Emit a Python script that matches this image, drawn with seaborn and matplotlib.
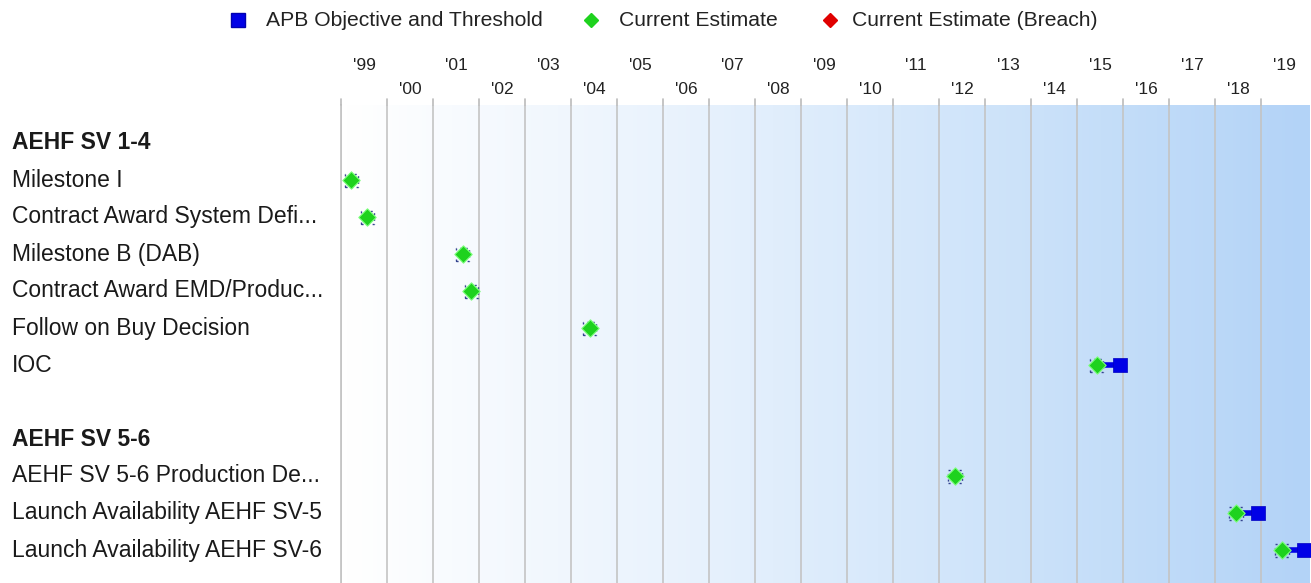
import numpy as np
import pandas as pd
import matplotlib
matplotlib.use("Agg")
import matplotlib.pyplot as plt
from matplotlib.colors import LinearSegmentedColormap
from matplotlib.lines import Line2D
import seaborn as sns

sns.set_theme(style="white")
plt.rcParams['font.family'] = ['Liberation Sans', 'DejaVu Sans']

# ---- data ----
row_labels = ["AEHF SV 1-4", "Milestone I", "Contract Award System Defi...",
              "Milestone B (DAB)", "Contract Award EMD/Produc...",
              "Follow on Buy Decision", "IOC", "",
              "AEHF SV 5-6", "AEHF SV 5-6 Production De...",
              "Launch Availability AEHF SV-5", "Launch Availability AEHF SV-6"]
header_rows = [0, 8]
est_rows = [1, 2, 3, 4, 5, 6, 9, 10, 11]
est_dates = [1999.22, 1999.57, 2001.65, 2001.83, 2004.41, 2015.43,
             2012.35, 2018.46, 2019.46]
apb_rows = [6, 10, 11]
apb_objective = [2015.55, 2018.58, 2019.58]
apb_threshold = [2015.93, 2018.93, 2019.93]
years = list(range(1999, 2020))
year_labels = ["'%02d" % (y % 100) for y in years]

x_min, x_max = 1999.0, 2020.07

fig = plt.figure(figsize=(13.11, 5.83), dpi=100)
W, H = 1311, 583
ax_top_px = 105
ax = fig.add_axes([341 / W, 0, (1310 - 341) / W, (H - ax_top_px) / H])

y_top = -1.03
y_bot = y_top + (H - ax_top_px) / 37.0

# gradient background
cmap = LinearSegmentedColormap.from_list("bg", ["#ffffff", "#eaf3fd", "#cfe4fa", "#b3d3f7"])
grad = np.linspace(0, 1, 256).reshape(1, -1)
ax.imshow(grad, cmap=cmap, aspect="auto", extent=[x_min, x_max, y_bot, y_top],
          zorder=0, interpolation="bicubic")

ax.set_xlim(x_min, x_max)
ax.set_ylim(y_bot, y_top)

# vertical grid lines
for y in years:
    ax.axvline(y, color="#c4c4c4", lw=1.2, zorder=1)

# APB objective-threshold
for r, o, t in zip(apb_rows, apb_objective, apb_threshold):
    ax.plot([o, t], [r, r], color="#0000e6", lw=4, solid_capstyle="butt", zorder=2)
apb_df = pd.DataFrame({"date": apb_threshold, "row": apb_rows})
sns.scatterplot(data=apb_df, x="date", y="row", marker="s", s=105, color="#0000e6",
                edgecolor="#0000c0", linewidth=0.5, ax=ax, zorder=3, legend=False)

est_df = pd.DataFrame({"date": est_dates, "row": est_rows})
sns.scatterplot(data=est_df, x="date", y="row", marker="s", s=90, color="none",
                edgecolor="#34448f", linewidth=1.0, linestyle=(0, (1.5, 2.5)),
                ax=ax, zorder=4, legend=False)
sns.scatterplot(data=est_df, x="date", y="row", marker="D", s=78, color="#1ed21e",
                edgecolor="#7dff7d", linewidth=0.8, ax=ax, zorder=5, legend=False)

ax.set_xlabel("")
ax.set_ylabel("")
ax.set_yticks([])
ax.set_xticks([])
for s in ["top", "right", "bottom"]:
    ax.spines[s].set_visible(False)
ax.spines["left"].set_color("#c4c4c4")

# top tick labels in two rows and small tick marks
for i, (y, lab) in enumerate(zip(years, year_labels)):
    xf = (341 + (y - x_min + 0.5) * 46) / W
    yy = 65 if i % 2 == 0 else 89
    fig.text(xf, 1 - yy / H, lab, ha="center", va="center", fontsize=12.5, color="#222222")
for y in years:
    xf = (341 + (y - x_min) * 46) / W
    fig.add_artist(Line2D([xf, xf], [1 - 99 / H, 1 - ax_top_px / H], color="#bbbbbb", lw=1.2))

# row labels
for i, lab in enumerate(row_labels):
    if not lab:
        continue
    ypx = 143 + 37 * i
    fig.text(12 / W, 1 - ypx / H, lab, ha="left", va="center", fontsize=16.5,
             fontweight="bold" if i in header_rows else "normal", color="#1a1a1a")

# legend
fig.add_artist(Line2D([238 / W], [1 - 20 / H], marker="s", markersize=9.5, color="#0000e6",
                      markeredgecolor="#0000b0", linestyle="none"))
fig.text(266 / W, 1 - 20 / H, "APB Objective and Threshold", ha="left", va="center",
         fontsize=15.2, color="#222222")
fig.add_artist(Line2D([591 / W], [1 - 20 / H], marker="D", markersize=7, color="#1ed21e",
                      markeredgecolor="#1ed21e", linestyle="none"))
fig.text(619 / W, 1 - 20 / H, "Current Estimate", ha="left", va="center",
         fontsize=15.2, color="#222222")
fig.add_artist(Line2D([830 / W], [1 - 20 / H], marker="D", markersize=7, color="#e00000",
                      markeredgecolor="#e00000", linestyle="none"))
fig.text(852 / W, 1 - 20 / H, "Current Estimate (Breach)", ha="left", va="center",
         fontsize=15.2, color="#222222")

fig.savefig("out.png", dpi=100, facecolor="white")
